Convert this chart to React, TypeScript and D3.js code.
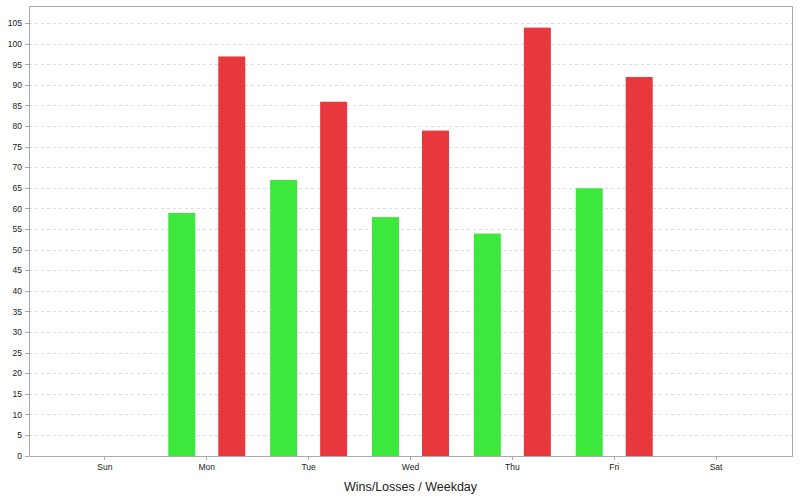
import React from "react";
import * as d3 from "d3";

const days = ["Sun", "Mon", "Tue", "Wed", "Thu", "Fri", "Sat"];
const wins = [0, 59, 67, 58, 54, 65, 0];
const losses = [0, 97, 86, 79, 104, 92, 0];
const yTicks = d3.range(0, 110, 5);
const title = "Wins/Losses / Weekday";

const W = 800, H = 500;
const left = 29, right = 792, top = 6, bottom = 456;

export default function App() {
  const y = d3.scaleLinear().domain([0, 109.25]).range([bottom, top]);
  const x = d3.scaleBand().domain(days).range([54, 767]).paddingInner(0).paddingOuter(0);
  const bw = 27;
  const off = 25;
  const font = "'Liberation Sans', Arial, sans-serif";
  return (
    <svg width={W} height={H} style={{ position: "absolute", left: 0, top: 0, background: "#fff" }}>
      <rect x={0} y={0} width={W} height={H} fill="#fff" />
      {yTicks.map((t) => (
        <g key={t}>
          {t > 0 && (
            <line x1={left} x2={right} y1={y(t)} y2={y(t)} stroke="#dcdcdc" strokeDasharray="3,3" strokeWidth={1} shapeRendering="crispEdges" />
          )}
          <line x1={left - 4} x2={left} y1={y(t)} y2={y(t)} stroke="#aaa" shapeRendering="crispEdges" />
          <text x={22} y={y(t)} dy="0.33em" textAnchor="end" fontSize={8.5} fontFamily={font} fill="#222">{t}</text>
        </g>
      ))}
      {days.map((d, i) => {
        const c = (x(d) as number) + x.bandwidth() / 2;
        return (
          <g key={d}>
            {wins[i] > 0 && (
              <rect x={c - off - bw / 2} y={y(wins[i])} width={bw} height={bottom - y(wins[i])} fill="#3de83d" />
            )}
            {losses[i] > 0 && (
              <rect x={c + off - bw / 2} y={y(losses[i])} width={bw} height={bottom - y(losses[i])} fill="#e8383d" />
            )}
            <line x1={c} x2={c} y1={bottom} y2={bottom + 4} stroke="#aaa" shapeRendering="crispEdges" />
            <text x={c} y={470} textAnchor="middle" fontSize={8.5} fontFamily={font} fill="#222">{d}</text>
          </g>
        );
      })}
      <rect x={left} y={top} width={right - left} height={bottom - top} fill="none" stroke="#aaa" strokeWidth={1} shapeRendering="crispEdges" />
      <text x={(left + right) / 2} y={491} textAnchor="middle" fontSize={12.5} fontFamily={font} fill="#222">{title}</text>
    </svg>
  );
}
